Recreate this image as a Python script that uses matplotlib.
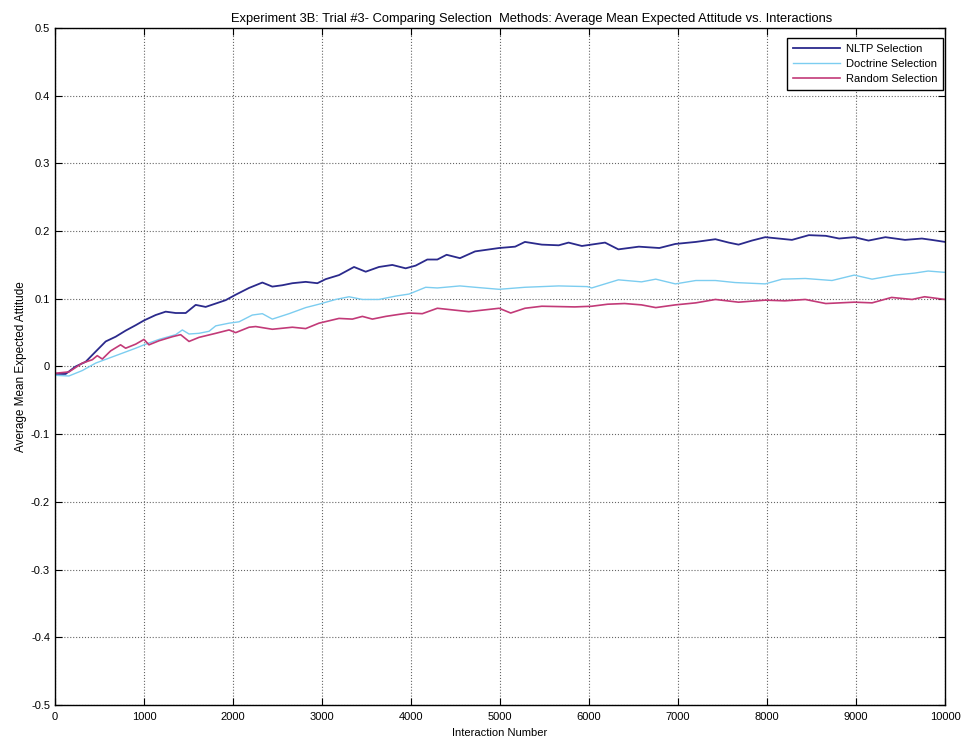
import numpy as np
import matplotlib
matplotlib.use("Agg")
import matplotlib.pyplot as plt

# values (interaction number, mean expected attitude)
nltp_x = [0, 120, 232, 345, 457, 570, 682, 794, 907, 1000, 1131, 1244, 1356, 1469,
          1581, 1693, 1806, 1918, 2030, 2180, 2330, 2442, 2554, 2667, 2817, 2948,
          3041, 3191, 3360, 3491, 3640, 3790, 3940, 4052, 4183, 4296, 4400,
          4550, 4720, 4990, 5170, 5280, 5470, 5660, 5770, 5920, 6180, 6330, 6560,
          6790, 6970, 7200, 7420, 7570, 7680, 7830, 7980, 8130, 8280, 8470, 8660,
          8810, 8980, 9140, 9330, 9550, 9740, 9850, 10000]
nltp_y = [-0.011, -0.011, 0.000, 0.007, 0.022, 0.037, 0.044, 0.053, 0.061, 0.068,
          0.076, 0.081, 0.079, 0.079, 0.091, 0.088, 0.093, 0.098, 0.106, 0.116,
          0.124, 0.118, 0.120, 0.123, 0.125, 0.123, 0.129, 0.135, 0.147, 0.140,
          0.147, 0.150, 0.145, 0.149, 0.158, 0.158, 0.165,
          0.160, 0.170, 0.175, 0.177, 0.184, 0.180, 0.179, 0.183, 0.178, 0.183,
          0.173, 0.177, 0.175, 0.181, 0.184, 0.188, 0.183, 0.180, 0.186, 0.191,
          0.189, 0.187, 0.194, 0.193, 0.189, 0.191, 0.186, 0.191, 0.187, 0.189,
          0.187, 0.184]

doct_x = [0, 157, 307, 457, 682, 907, 1000, 1169, 1356, 1431, 1506, 1618, 1731,
          1806, 1956, 2068, 2217, 2330, 2442, 2630, 2817, 2966, 3154, 3304, 3454,
          3640, 3828, 3978, 4165, 4296, 4550, 4720,
          4990, 5280, 5660, 5980, 6030, 6330, 6590, 6750, 6970, 7200, 7420, 7640,
          7980, 8170, 8430, 8730, 8980, 9180, 9440, 9660, 9810, 10000]
doct_y = [-0.013, -0.014, -0.006, 0.005, 0.016, 0.027, 0.032, 0.040, 0.047, 0.054,
          0.048, 0.049, 0.052, 0.060, 0.064, 0.066, 0.076, 0.078, 0.070, 0.078,
          0.087, 0.092, 0.099, 0.103, 0.099, 0.099, 0.104, 0.107, 0.117, 0.116,
          0.119, 0.117,
          0.114, 0.117, 0.119, 0.118, 0.116, 0.128, 0.125, 0.129, 0.122, 0.127,
          0.127, 0.124, 0.122, 0.129, 0.130, 0.127, 0.135, 0.129, 0.135, 0.138,
          0.141, 0.139]

rand_x = [0, 157, 307, 419, 475, 532, 625, 737, 794, 907, 1000, 1056, 1169, 1319,
          1412, 1506, 1618, 1806, 1956, 2030, 2181, 2255, 2442, 2667, 2817, 2966,
          3191, 3341, 3454, 3566, 3716, 3866, 3978, 4127, 4296,
          4650, 4990, 5120, 5280, 5470, 5840, 6030, 6210, 6400, 6590, 6750, 6970,
          7200, 7420, 7680, 7980, 8200, 8430, 8660, 8980, 9180, 9400, 9630, 9770,
          10000]
rand_y = [-0.010, -0.008, 0.005, 0.010, 0.016, 0.011, 0.023, 0.032, 0.027, 0.033,
          0.040, 0.032, 0.038, 0.044, 0.047, 0.037, 0.043, 0.049, 0.054, 0.050,
          0.058, 0.059, 0.055, 0.058, 0.056, 0.064, 0.071, 0.070, 0.074, 0.070,
          0.074, 0.077, 0.079, 0.078, 0.086,
          0.081, 0.086, 0.079, 0.086, 0.089, 0.088, 0.089, 0.092, 0.093, 0.091,
          0.087, 0.091, 0.094, 0.099, 0.095, 0.098, 0.097, 0.099, 0.093, 0.095,
          0.094, 0.102, 0.099, 0.103, 0.099]

labels = ["NLTP Selection", "Doctrine Selection", "Random Selection"]
colors = ["#2b2a8c", "#7ccdf0", "#c23a78"]
font = ["Liberation Sans", "DejaVu Sans"]

fig = plt.figure(figsize=(9.61, 7.44), dpi=100)
ax = fig.add_axes([0.0572, 0.0524, 0.9262, 0.91])

ax.plot(nltp_x, nltp_y, color=colors[0], lw=1.3, label=labels[0])
ax.plot(doct_x, doct_y, color=colors[1], lw=1.0, label=labels[1])
ax.plot(rand_x, rand_y, color=colors[2], lw=1.2, label=labels[2])

ax.set_xlim(0, 10000)
ax.set_ylim(-0.5, 0.5)
ax.set_xticks(np.arange(0, 10001, 1000))
ax.set_yticks(np.arange(-0.5, 0.51, 0.1))
ax.set_yticklabels(["-0.5", "-0.4", "-0.3", "-0.2", "-0.1", "0",
                    "0.1", "0.2", "0.3", "0.4", "0.5"])
ax.tick_params(direction="in", top=True, right=True, labelsize=8, length=5)
ax.tick_params(axis="x", pad=5)
for lbl in ax.get_xticklabels() + ax.get_yticklabels():
    lbl.set_family(font)
ax.grid(True, linestyle=":", color="#666666", lw=0.8)
for s in ax.spines.values():
    s.set_linewidth(1.0)

ax.set_title("Experiment 3B: Trial #3- Comparing Selection  Methods: Average Mean Expected Attitude vs. Interactions",
             fontsize=9.3, family=font, pad=4, x=0.535)
ax.set_xlabel("Interaction Number", fontsize=8, family=font, labelpad=4)
ax.set_ylabel("Average Mean Expected Attitude", fontsize=8.5, family=font, labelpad=3)

leg = ax.legend(loc="upper right", bbox_to_anchor=(0.998, 0.985), borderaxespad=0,
                prop={"family": font, "size": 8}, fancybox=False, framealpha=1,
                edgecolor="black", handlelength=4.2, handletextpad=0.5,
                borderpad=0.55, labelspacing=0.45)
leg.get_frame().set_linewidth(1.0)

fig.savefig("out.png", dpi=100)
